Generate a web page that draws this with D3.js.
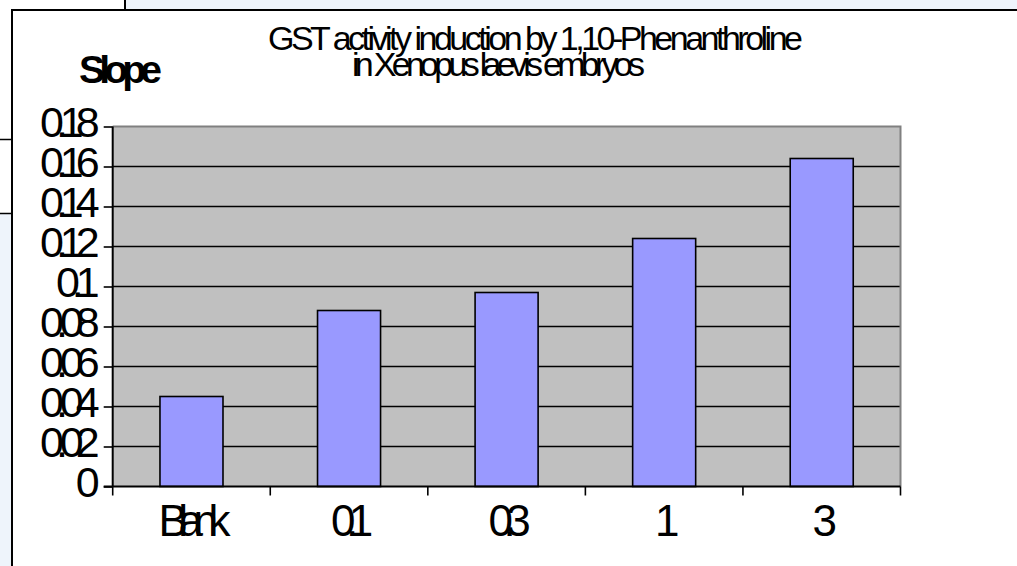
<!DOCTYPE html>
<html>
<head>
<meta charset="utf-8">
<script src="https://cdn.jsdelivr.net/npm/d3@7"></script>
<style>
  html, body { margin: 0; padding: 0; background: #eef4fb; }
  svg { display: block; }
  text { font-family: "Liberation Sans", Arial, sans-serif; fill: #000; }
</style>
</head>
<body>
<svg id="chart" width="1017" height="566"></svg>
<script>
// Data
const categories = ["Blank", "0.1", "0.3", "1", "3"];
const slopeValues = [0.045, 0.088, 0.097, 0.124, 0.164];
const yTickValues = [0, 0.02, 0.04, 0.06, 0.08, 0.1, 0.12, 0.14, 0.16, 0.18];
const titleLines = ["GST activity induction by 1,10-Phenanthroline", "in Xenopus laevis embryos"];
const yAxisTitle = "Slope";

const svg = d3.select("#chart");
const W = 1017, H = 566;

// Surrounding window pieces
svg.append("rect").attr("x", 0).attr("y", 0).attr("width", W).attr("height", H).attr("fill", "#eef4fb");
svg.append("rect").attr("x", 0).attr("y", 0).attr("width", 125).attr("height", 10).attr("fill", "#ffffff");
svg.append("line").attr("x1", 125).attr("x2", 125).attr("y1", 0).attr("y2", 10).attr("stroke", "#000").attr("stroke-width", 2);
svg.append("rect").attr("x", 0).attr("y", 10).attr("width", 12).attr("height", 204).attr("fill", "#ffffff");
svg.append("line").attr("x1", 0).attr("x2", 12).attr("y1", 139.5).attr("y2", 139.5).attr("stroke", "#000").attr("stroke-width", 1.5);
svg.append("line").attr("x1", 0).attr("x2", 12).attr("y1", 213.5).attr("y2", 213.5).attr("stroke", "#000").attr("stroke-width", 1.5);

// Chart sheet
svg.append("rect").attr("x", 12).attr("y", 10).attr("width", W - 12).attr("height", H - 10).attr("fill", "#ffffff");
svg.append("line").attr("x1", 11).attr("x2", W).attr("y1", 10).attr("y2", 10).attr("stroke", "#000").attr("stroke-width", 2);
svg.append("line").attr("x1", 12).attr("x2", 12).attr("y1", 10).attr("y2", H).attr("stroke", "#000").attr("stroke-width", 2);

// Plot area
const plot = { left: 112.7, right: 900.5, top: 126.5, bottom: 486.5 };

const x = d3.scaleBand()
  .domain(categories)
  .range([plot.left, plot.right])
  .paddingInner(0.6)
  .paddingOuter(0.3);

const y = d3.scaleLinear()
  .domain([0, 0.18])
  .range([plot.bottom, plot.top]);

// Squeeze text horizontally by reducing the gap between glyphs
function squeeze(sel, gap) {
  sel.each(function () {
    const n = this.textContent.length;
    if (n < 2) return;
    const len = this.getComputedTextLength();
    d3.select(this).attr("textLength", len + gap * (n - 1)).attr("lengthAdjust", "spacing");
  });
}
function fitTo(sel, width) {
  sel.attr("textLength", width).attr("lengthAdjust", "spacing");
}

svg.append("rect")
  .attr("x", plot.left).attr("y", plot.top)
  .attr("width", plot.right - plot.left).attr("height", plot.bottom - plot.top)
  .attr("fill", "#c0c0c0");

// Gridlines
svg.append("g")
  .selectAll("line")
  .data(yTickValues.filter(v => v > 0 && v < 0.18))
  .join("line")
  .attr("x1", plot.left).attr("x2", plot.right)
  .attr("y1", d => y(d)).attr("y2", d => y(d))
  .attr("stroke", "#000").attr("stroke-width", 1.6);

// Plot border (top / right)
svg.append("path")
  .attr("d", `M${plot.left},${plot.top}H${plot.right}V${plot.bottom}`)
  .attr("fill", "none").attr("stroke", "#808080").attr("stroke-width", 2);

// Bars
svg.append("g")
  .selectAll("rect")
  .data(slopeValues)
  .join("rect")
  .attr("x", (d, i) => x(categories[i]))
  .attr("y", d => y(d))
  .attr("width", x.bandwidth())
  .attr("height", d => y(0) - y(d))
  .attr("fill", "#9999ff")
  .attr("stroke", "#000")
  .attr("stroke-width", 1.6);

// Y axis
const yAxis = d3.axisLeft(y)
  .tickValues(yTickValues)
  .tickSize(9)
  .tickPadding(0)
  .tickFormat(d => d3.format("~g")(d));

const gy = svg.append("g").attr("transform", `translate(${plot.left},0)`).call(yAxis);
gy.select(".domain").attr("stroke", "#000").attr("stroke-width", 2)
  .attr("d", `M0,${plot.top}V${plot.bottom}`);
gy.selectAll(".tick line").attr("stroke", "#000").attr("stroke-width", 1.6);
gy.selectAll(".tick text")
  .attr("x", -13).attr("dy", null).attr("y", 9.5)
  .style("font-size", "43px")
  .style("font-family", '"Liberation Sans", Arial, sans-serif')
  .attr("fill", "#000")
  .call(squeeze, -8);

// X axis: ticks at category boundaries
const step = x.step();
const boundaries = d3.range(categories.length + 1).map(i => plot.left + i * step);
const gx = svg.append("g");
gx.append("line")
  .attr("x1", plot.left - 9).attr("x2", plot.right)
  .attr("y1", plot.bottom).attr("y2", plot.bottom)
  .attr("stroke", "#000").attr("stroke-width", 2);
gx.selectAll("line.tk")
  .data(boundaries)
  .join("line")
  .attr("class", "tk")
  .attr("x1", d => d).attr("x2", d => d)
  .attr("y1", plot.bottom).attr("y2", plot.bottom + 9)
  .attr("stroke", "#000").attr("stroke-width", 1.6);
gx.selectAll("text")
  .data(categories)
  .join("text")
  .attr("x", d => x(d) + x.bandwidth() / 2 + 3)
  .attr("y", 536)
  .attr("text-anchor", "middle")
  .style("font-size", "44px")
  .text(d => d)
  .call(squeeze, -9.5);

// Titles
svg.append("text")
  .attr("x", 535.5).attr("y", 50)
  .attr("text-anchor", "middle")
  .style("font-size", "34px")
  .text(titleLines[0])
  .call(fitTo, 535);
svg.append("text")
  .attr("x", 498.5).attr("y", 76)
  .attr("text-anchor", "middle")
  .style("font-size", "34px")
  .text(titleLines[1])
  .call(fitTo, 293);

svg.append("text")
  .attr("x", 120.5).attr("y", 83)
  .attr("text-anchor", "middle")
  .style("font-size", "39px")
  .style("font-weight", "bold")
  .text(yAxisTitle)
  .call(fitTo, 83);
</script>
</body>
</html>
